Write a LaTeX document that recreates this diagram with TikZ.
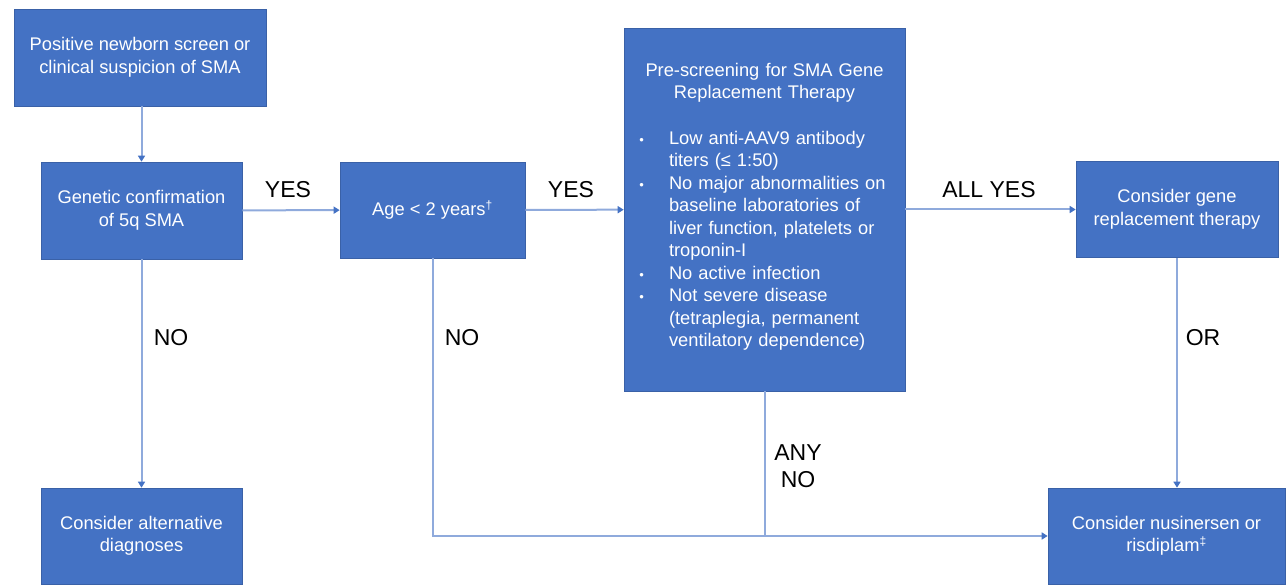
\documentclass[tikz,border=0pt]{standalone}
\usepackage{fontspec}
\setmainfont{Liberation Sans}
\usepackage{tikz}
\usetikzlibrary{positioning, arrows.meta}
\usepackage{xcolor}

\definecolor{boxblue}{HTML}{4472C4}
\definecolor{lineblue}{HTML}{8FAADC}

\newcommand{\supmark}[1]{\textsuperscript{\fontsize{12}{12}\selectfont #1}}

\tikzset{
  box/.style={fill=boxblue, draw=boxblue!85!black, line width=0.6pt, text=white, align=center,
    inner sep=4pt, font=\fontsize{18.3}{22.5}\selectfont},
  link/.style={draw=lineblue, line width=2pt},
  arr/.style={link, -{Triangle[width=7pt, length=6pt, color=boxblue]}},
  lbl/.style={font=\fontsize{23}{27}\selectfont, align=center, inner sep=0pt}
}

\begin{document}
\begin{tikzpicture}[x=1pt, y=-1pt]
  \useasboundingbox (0,0) rectangle (1286,585);
  % boxes
  \node[box, minimum width=252, minimum height=97] (start) at (140,57.5)
    {Positive newborn screen or\\clinical suspicion of SMA};
  \node[box, minimum width=201, minimum height=97] (genetic) at (141.5,210.5)
    {Genetic confirmation\\of 5q SMA};
  \node[box, minimum width=185, minimum height=96] (age) at (432.5,210)
    {Age < 2 years\supmark{†}};
  \node[box, minimum width=281, minimum height=363, text width=253, inner sep=14, align=left] (pre) at (764.5,209.5)
    {{\centering Pre-screening for SMA Gene\\Replacement Therapy\par}
     \vspace{21pt}
     \begin{list}{\fontsize{13}{13}\selectfont\textbullet}{\setlength{\leftmargin}{31pt}\setlength{\labelwidth}{6pt}
       \setlength{\labelsep}{25pt}\setlength{\itemsep}{0pt}\setlength{\parsep}{0pt}\setlength{\topsep}{0pt}}
       \item Low anti-AAV9 antibody\\titers (≤ 1:50)
       \item No major abnormalities on\\baseline laboratories of\\liver function, platelets or\\troponin-I
       \item No active infection
       \item Not severe disease\\(tetraplegia, permanent\\ventilatory dependence)
     \end{list}
     \vspace{3pt}};
  \node[box, minimum width=202, minimum height=96] (gene) at (1177,209.5)
    {Consider gene\\replacement therapy};
  \node[box, minimum width=201, minimum height=96] (alt) at (141.5,536)
    {Consider alternative\\diagnoses};
  \node[box, minimum width=237, minimum height=96] (nusi) at (1166.5,536)
    {Consider nusinersen or\\risdiplam\supmark{‡}};

  % connectors
  \draw[arr] (start.south -| genetic.north) -- (genetic.north);
  \draw[arr] (genetic) -- (age);
  \draw[arr] (age) -- (pre);
  \draw[arr] (pre.east |- gene.west) -- (gene.west);
  \draw[arr] (genetic) -- (alt);
  \draw[arr] (age.south) -- (age.south |- nusi.west) -- (nusi.west);
  \draw[link] (pre.south) -- (pre.south |- nusi.west);
  \draw[arr] (gene.south) -- (gene.south |- nusi.north);

  % branch labels
  \node[lbl] (yes1) at (288,190) {YES};
  \node[lbl] (yes2) at (571,190) {YES};
  \node[lbl] (allyes) at (989,190) {ALL YES};
  \node[lbl] (no1) at (171,338) {NO};
  \node[lbl] (no2) at (462,338) {NO};
  \node[lbl] (or) at (1203,338) {OR};
  \node[lbl] (anyno) at (798,466) {ANY\\NO};
\end{tikzpicture}
\end{document}
